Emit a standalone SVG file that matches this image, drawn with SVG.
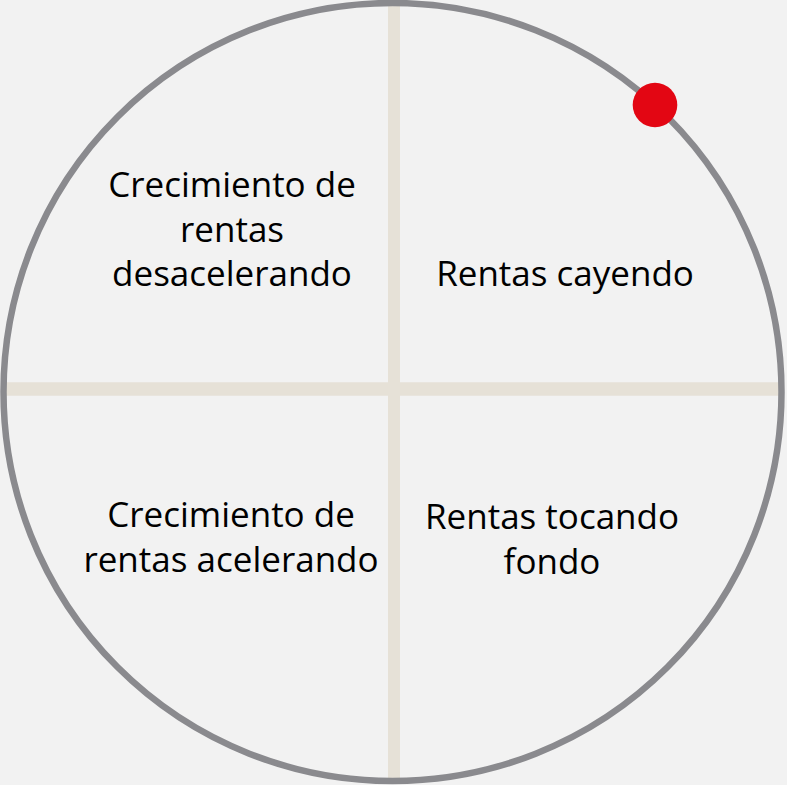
<svg xmlns="http://www.w3.org/2000/svg" width="787" height="785" viewBox="0 0 787 785">
<style>
.lbl{font-family:"Open Sans","Noto Sans","Liberation Sans",sans-serif;font-size:35px;fill:#000;text-anchor:middle}
.cross{stroke:#e6e1d7;fill:none}
</style>
<rect width="787" height="785" fill="#f2f2f2"/>
<g id="connectors">
<line class="cross" x1="394" y1="4" x2="394" y2="781" stroke-width="12"/>
<line class="cross" x1="4" y1="389" x2="782" y2="389" stroke-width="13.5"/>
</g>
<g id="ring">
<circle cx="392.5" cy="392" r="389" fill="none" stroke="#8a8a8e" stroke-width="6.5"/>
</g>
<g id="marker-dot">
<circle cx="655" cy="105" r="22.3" fill="#e30613"/>
</g>
<g id="q-top-left">
<text class="lbl" x="232" y="197">Crecimiento de</text>
<text class="lbl" x="232" y="241.5">rentas</text>
<text class="lbl" x="232" y="286">desacelerando</text>
</g>
<g id="q-top-right">
<text class="lbl" x="565" y="285.5">Rentas cayendo</text>
</g>
<g id="q-bottom-left">
<text class="lbl" x="231" y="527">Crecimiento de</text>
<text class="lbl" x="231" y="572">rentas acelerando</text>
</g>
<g id="q-bottom-right">
<text class="lbl" x="552" y="528.5">Rentas tocando</text>
<text class="lbl" x="552" y="573.5">fondo</text>
</g>
</svg>
